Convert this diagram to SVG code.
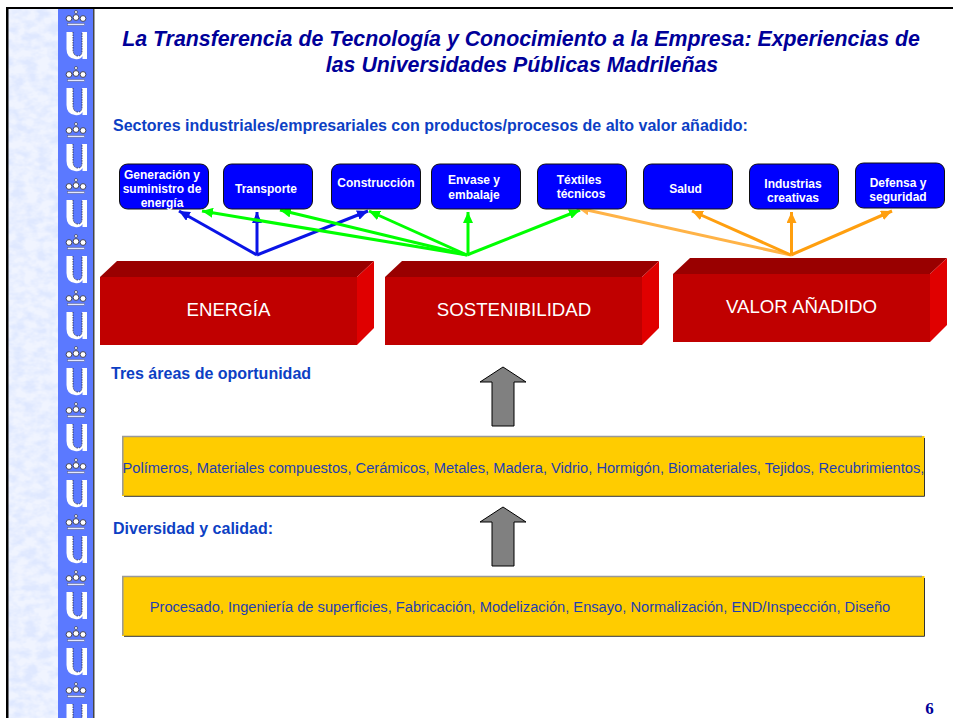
<svg xmlns="http://www.w3.org/2000/svg" width="953" height="718" viewBox="0 0 953 718">
<style>
text{font-family:"Liberation Sans",Arial,sans-serif}
.title{font-size:21.33px;font-weight:bold;font-style:italic;fill:#000099;text-anchor:middle}
.head{font-size:16px;font-weight:bold;fill:#0d3fc4}
.sec{fill:#0000ff;stroke:#111;stroke-width:1}
.st{font-size:12px;font-weight:bold;fill:#fff;text-anchor:middle}
.top{fill:#990000}.front{fill:#c00000}.side{fill:#e00000}
.bt{font-size:18.67px;fill:#fff;text-anchor:middle}
.band{fill:#ffcc00;stroke:none}
.bl{font-size:14.67px;fill:#1f3fb0;text-anchor:middle}
.gar{fill:#808080;stroke:#000;stroke-width:1}
.c{fill:none;stroke-width:3}
.blue{stroke:#0a14e6}.green{stroke:#00ff00}.orange{stroke:#ff9f0f}.lor{stroke:#ffb347}
</style>
<defs>
<marker id="mb" markerUnits="userSpaceOnUse" markerWidth="12" markerHeight="10" refX="11" refY="5" orient="auto"><path d="M0 0L11 5L0 10Z" fill="#0a14e6"/></marker>
<marker id="mg" markerUnits="userSpaceOnUse" markerWidth="12" markerHeight="10" refX="11" refY="5" orient="auto"><path d="M0 0L11 5L0 10Z" fill="#00ff00"/></marker>
<marker id="mo" markerUnits="userSpaceOnUse" markerWidth="12" markerHeight="10" refX="11" refY="5" orient="auto"><path d="M0 0L11 5L0 10Z" fill="#ff9f0f"/></marker>
<marker id="ml" markerUnits="userSpaceOnUse" markerWidth="12" markerHeight="10" refX="11" refY="5" orient="auto"><path d="M0 0L11 5L0 10Z" fill="#ffb347"/></marker>
<filter id="tex" x="0" y="0" width="100%" height="100%"><feTurbulence type="fractalNoise" baseFrequency="0.08 0.12" numOctaves="3" seed="4"/><feColorMatrix values="0 0 0 0 0.74  0 0 0 0 0.81  0 0 0 0 1  2.6 0 0 0 -0.9"/></filter>
<pattern id="logo" width="35" height="56" patternUnits="userSpaceOnUse" x="58" y="7">
<circle cx="18" cy="5" r="1.500" fill="#fff" stroke="#223" stroke-width=".6"/>
<circle cx="11" cy="11.500" r="2.900" fill="#fff" stroke="#223" stroke-width=".8"/>
<circle cx="18" cy="10.500" r="2.900" fill="#fff" stroke="#223" stroke-width=".8"/>
<circle cx="25" cy="11.500" r="2.900" fill="#fff" stroke="#223" stroke-width=".8"/>
<rect x="9.500" y="16.500" width="17" height="1.800" fill="#e4e9ff" stroke="#556" stroke-width=".4"/>
<path d="M8.500 25H15V42Q15 49 20 49Q24 49 24 44V25H29V52H24.500V49Q22 53 17 52Q8.500 51 8.500 42Z" fill="#fff"/>
<path d="M15 25V42Q15 49 20 49Q24 49 24 44V25" fill="none" stroke="#223" stroke-width=".8" stroke-dasharray="1.500 1"/>
</pattern>
</defs>
<rect width="953" height="718" fill="#fff"/>
<g id="background">
<rect x="8" y="9" width="50" height="709" fill="#f0f4ff"/>
<rect x="8" y="9" width="50" height="709" filter="url(#tex)"/>
<rect x="58" y="9" width="35" height="709" fill="#5b79ff"/>
<rect x="58" y="9" width="35" height="709" fill="url(#logo)"/>
<rect x="93" y="9" width="1.500" height="709" fill="#444"/>
<rect x="6" y="7" width="947" height="2" fill="#000"/>
<rect x="6" y="7" width="2.500" height="711" fill="#000"/>
</g>
<g id="title"><text class="title" x="521" y="45.500">La Transferencia de Tecnología y Conocimiento a la Empresa: Experiencias de</text><text class="title" x="522" y="71.500">las Universidades Públicas Madrileñas</text></g>
<text id="h1" class="head" x="113" y="130.500">Sectores industriales/empresariales con productos/procesos de alto valor añadido:</text>
<g id="connectors">
<path class="c blue" marker-end="url(#mb)" d="M257 255L179 211"/><path class="c blue" marker-end="url(#mb)" d="M257 255V212"/><path class="c blue" marker-end="url(#mb)" d="M257 255L368 211"/>
<path class="c green" marker-end="url(#mg)" d="M467 255L202 211"/><path class="c green" marker-end="url(#mg)" d="M467 255L280 210"/><path class="c green" marker-end="url(#mg)" d="M467 255L369 211"/><path class="c green" marker-end="url(#mg)" d="M468 255V212"/><path class="c green" marker-end="url(#mg)" d="M467 255L580 210"/>
<path class="c lor" marker-end="url(#ml)" d="M791 255L578 208"/><path class="c orange" marker-end="url(#mo)" d="M791 255L692 211"/><path class="c orange" marker-end="url(#mo)" d="M791.500 255V212"/><path class="c orange" marker-end="url(#mo)" d="M791 255L892 211"/>
</g>
<g id="s1"><rect class="sec" x="119.500" y="164" width="89" height="45" rx="8"/><text class="st" x="162" y="179">Generación y</text><text class="st" x="162" y="193">suministro de</text><text class="st" x="162" y="207">energía</text></g>
<g id="s2"><rect class="sec" x="223.500" y="164" width="89" height="45" rx="8"/><text class="st" x="266" y="193">Transporte</text></g>
<g id="s3"><rect class="sec" x="331.500" y="164" width="89" height="45" rx="8"/><text class="st" x="376" y="187">Construcción</text></g>
<g id="s4"><rect class="sec" x="431.500" y="164" width="89" height="45" rx="8"/><text class="st" x="474" y="184">Envase y</text><text class="st" x="474" y="199">embalaje</text></g>
<g id="s5"><rect class="sec" x="537.500" y="164" width="89" height="45" rx="8"/><text class="st" x="579" y="184">Téxtiles</text><text class="st" x="581" y="198">técnicos</text></g>
<g id="s6"><rect class="sec" x="643.500" y="164" width="89" height="45" rx="8"/><text class="st" x="685.500" y="193">Salud</text></g>
<g id="s7"><rect class="sec" x="749.500" y="164" width="89" height="45" rx="8"/><text class="st" x="793" y="188">Industrias</text><text class="st" x="793" y="202">creativas</text></g>
<g id="s8"><rect class="sec" x="855.500" y="163" width="89" height="45" rx="8"/><text class="st" x="898" y="187">Defensa y</text><text class="st" x="898" y="201">seguridad</text></g>
<g id="b1"><path class="top" d="M100 277L117 261H374L357 277Z"/><path class="side" d="M357 277L374 261V328L357 345Z"/><rect class="front" x="100" y="277" width="257" height="68"/><text class="bt" x="228.500" y="316">ENERGÍA</text></g>
<g id="b2"><path class="top" d="M385 277L402 261H659L642 277Z"/><path class="side" d="M642 277L659 261V328L642 345Z"/><rect class="front" x="385" y="277" width="257" height="68"/><text class="bt" x="514" y="316">SOSTENIBILIDAD</text></g>
<g id="b3"><path class="top" d="M673 274L690 258H947L930 274Z"/><path class="side" d="M930 274L947 258V325L930 342Z"/><rect class="front" x="673" y="274" width="257" height="68"/><text class="bt" x="801.500" y="313">VALOR AÑADIDO</text></g>
<text id="h2" class="head" x="111" y="378.500">Tres áreas de oportunidad</text>
<g id="a1"><path class="gar" d="M503 367L526 382H514V426H492V382H480Z"/></g>
<g id="m1"><rect class="band" x="122" y="436" width="802.500" height="60"/><path d="M122.800 495V436.500H922" fill="none" stroke="#999" stroke-width="1.500"/><path d="M124 496.300H924.500V438" fill="none" stroke="#333" stroke-width="1"/><text class="bl" x="523.500" y="472.500">Polímeros, Materiales compuestos, Cerámicos, Metales, Madera, Vidrio, Hormigón, Biomateriales, Tejidos, Recubrimientos,</text></g>
<text id="h3" class="head" x="113" y="533.500">Diversidad y calidad:</text>
<g id="a2"><path class="gar" d="M503 507L526 522H514V566H492V522H480Z"/></g>
<g id="m2"><rect class="band" x="122" y="576" width="802.500" height="60"/><path d="M122.800 635V576.500H922" fill="none" stroke="#999" stroke-width="1.500"/><path d="M124 636.300H924.500V578" fill="none" stroke="#333" stroke-width="1"/><text class="bl" x="520" y="612">Procesado, Ingeniería de superficies, Fabricación, Modelización, Ensayo, Normalización, END/Inspección, Diseño</text></g>
<text id="pg" x="929.500" y="714" text-anchor="middle" style="font-family:'Liberation Serif',serif;font-weight:bold;font-size:17px;fill:#000099">6</text>
</svg>
